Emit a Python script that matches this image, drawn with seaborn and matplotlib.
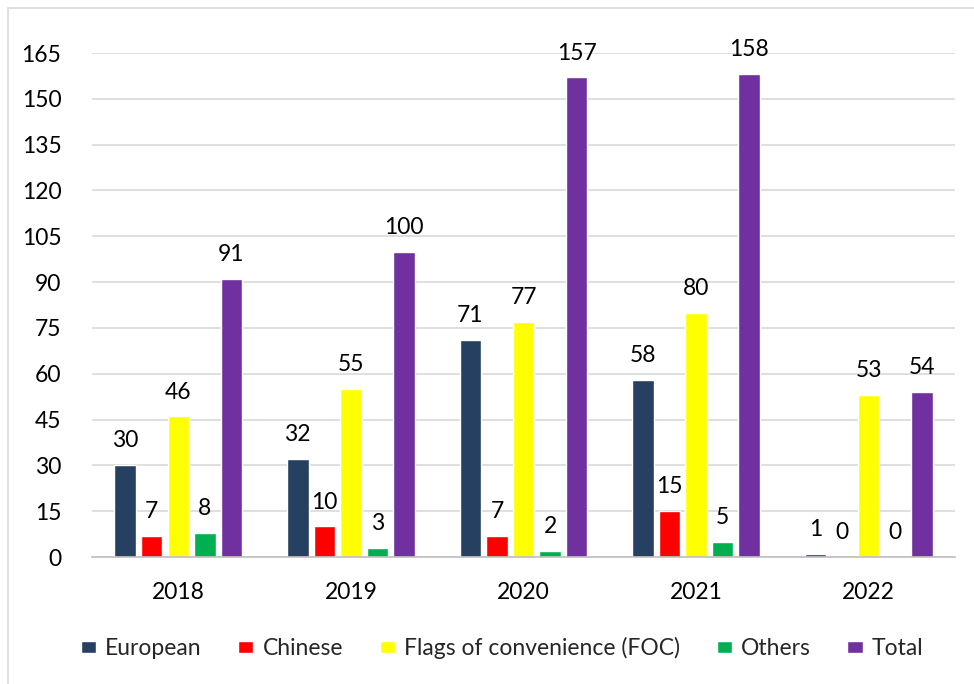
import matplotlib
matplotlib.use("Agg")
import matplotlib.pyplot as plt
import matplotlib.patches as mpatches
import pandas as pd
import seaborn as sns

years = ["2018", "2019", "2020", "2021", "2022"]
series = ["European", "Chinese", "Flags of convenience (FOC)", "Others", "Total"]
european = [30, 32, 71, 58, 1]
chinese = [7, 10, 7, 15, 0]
foc = [46, 55, 77, 80, 53]
others = [8, 3, 2, 5, 0]
total = [91, 100, 157, 158, 54]
colors = ["#264061", "#FF0000", "#FFFF00", "#00B050", "#7030A0"]
yticks = list(range(0, 166, 15))

rows = []
for name, vals in zip(series, [european, chinese, foc, others, total]):
    for yr, v in zip(years, vals):
        rows.append({"Year": yr, "Type": name, "Count": v})
df = pd.DataFrame(rows)

sns.set_theme(style="white")
plt.rcParams["font.family"] = ["Lato", "DejaVu Sans"]

fig = plt.figure(figsize=(9.74, 6.84), dpi=100)
ax = fig.add_axes([92 / 974, 1 - 557 / 684, (955 - 92) / 974, (557 - 53) / 684])

sns.barplot(data=df, x="Year", y="Count", hue="Type", order=years,
            hue_order=series, palette=colors, width=0.77, gap=0.19,
            saturation=1, ax=ax, legend=True)

for cont in ax.containers:
    ax.bar_label(cont, fmt="%d", padding=10, fontsize=16.5, color="#000000",
                 clip_on=False)

ax.set_ylim(0, 165)
ax.set_yticks(yticks)
ax.set_xlim(-0.5, len(years) - 0.5)
ax.yaxis.grid(True, color="#d9d9d9", linewidth=1.2)
ax.set_axisbelow(True)
for side in ["top", "right", "left"]:
    ax.spines[side].set_visible(False)
ax.spines["bottom"].set_color("#bfbfbf")
ax.spines["bottom"].set_linewidth(1.2)
ax.tick_params(axis="y", length=0, pad=22, labelsize=16.5, labelcolor="#000000")
ax.tick_params(axis="x", length=0, pad=18, labelsize=16.5, labelcolor="#000000")
ax.set_xlabel("")
ax.set_ylabel("")

handles, labels = ax.get_legend_handles_labels()
ax.legend_.remove()
fig.legend(handles, labels, loc="center", bbox_to_anchor=(502 / 974, 1 - 648 / 684),
           ncol=5, frameon=False, fontsize=16.5, handlelength=0.66,
           handleheight=0.48, handletextpad=0.4, columnspacing=1.6,
           borderaxespad=0)

border = mpatches.Rectangle((8 / 974, -0.05), 1.1, 1.05 - 8 / 684,
                            transform=fig.transFigure, fill=False,
                            edgecolor="#d9d9d9", linewidth=1.2)
fig.patches.append(border)

fig.savefig("out.png", dpi=100)
